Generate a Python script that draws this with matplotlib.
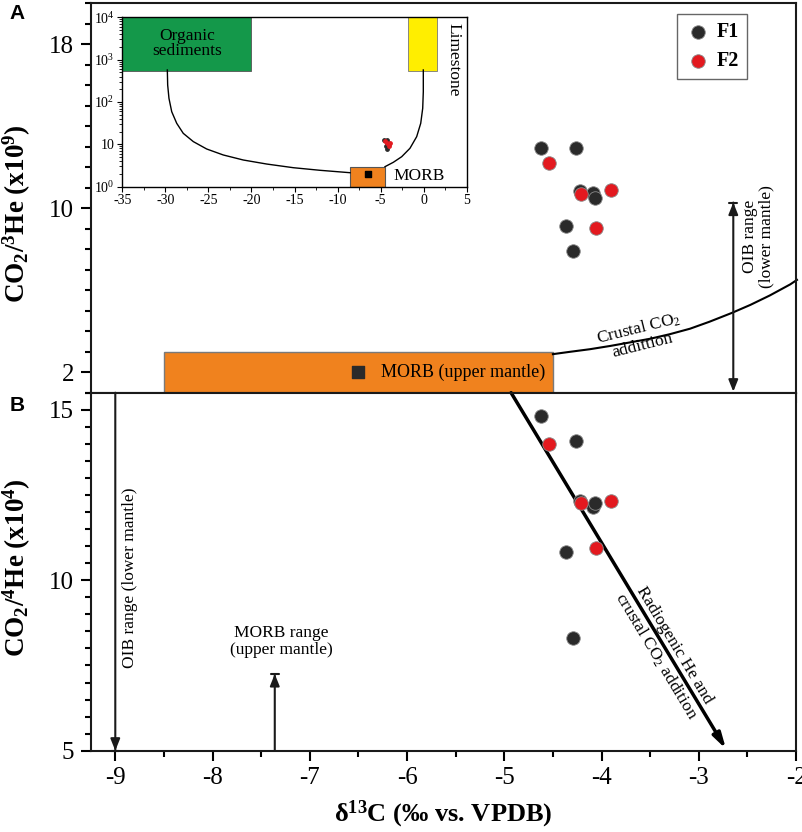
import numpy as np
import matplotlib
matplotlib.use('Agg')
import matplotlib.pyplot as plt
from matplotlib.patches import Rectangle
from matplotlib.ticker import MultipleLocator, FixedLocator, LogLocator, NullFormatter

plt.rcParams['font.family'] = ['Liberation Serif', 'DejaVu Serif']
plt.rcParams['mathtext.fontset'] = 'custom'
plt.rcParams['mathtext.rm'] = 'Liberation Serif'
plt.rcParams['mathtext.it'] = 'Liberation Serif:italic'
plt.rcParams['mathtext.bf'] = 'Liberation Serif:bold'
plt.rcParams['mathtext.default'] = 'regular'
plt.rcParams['axes.unicode_minus'] = False

# samples: d13C (permil), CO2/3He (x1e9), CO2/4He (x1e4)
f1_d13c = [-4.62, -4.26, -4.22, -4.09, -4.07, -4.37, -4.29]
f1_co2_3he = [12.94, 12.94, 10.85, 10.76, 10.47, 9.14, 7.91]
f1_co2_4he = [14.82, 14.09, 12.33, 12.16, 12.26, 10.84, 8.30]

f2_d13c = [-4.54, -4.21, -3.90, -4.06]
f2_co2_3he = [12.21, 10.68, 10.87, 9.04]
f2_co2_4he = [14.01, 12.27, 12.33, 10.96]

# MORB end member and box
morb_d13c = -6.5
morb_co2_3he = 2.0
morb_box_x = [-8.5, -4.5]
morb_box_y = [1.0, 3.0]

# crustal CO2 addition curve
crust_x = [-4.50, -4.33, -4.12, -3.91, -3.71, -3.50, -3.30, -3.09, -2.89, -2.66,
           -2.47, -2.27, -2.06, -1.99]
crust_y = [2.88, 2.99, 3.12, 3.28, 3.45, 3.63, 3.85, 4.12, 4.46, 4.89,
           5.28, 5.74, 6.28, 6.50]

# OIB range arrow in panel A
oib_a_x = -2.645
oib_a_y = [1.05, 10.27]

# panel B arrows
oib_b_x = -9.0
oib_b_y = [15.5, 5.0]
morb_b_x = -7.36
morb_b_y = [5.0, 7.25]
radio_x = [-4.93, -2.72]
radio_y = [15.5, 5.05]

# inset: end members and mixing curves
org_box_x = [-35, -20]
lime_box_x = [-1.8, 1.5]
src_box_y = [550, 1e4]
mix_org_x = [-29.77, -29.73, -29.58, -29.26, -28.68, -27.92, -26.75, -25.20,
             -23.27, -20.95, -18.23, -15.14, -12.04, -8.55]
mix_org_y = [570, 252, 122, 59, 31.4, 18.2, 11.6, 7.77,
             5.61, 4.27, 3.43, 2.81, 2.44, 2.14]
mix_lime_x = [-0.04, -0.04, -0.11, -0.34, -0.81, -1.59, -2.55, -3.52, -4.49]
mix_lime_y = [570, 175, 71, 31.4, 15.2, 8.07, 5.11, 3.77, 2.97]
inset_yticks = [1, 10, 100, 1000, 10000]
inset_ylabels = ['10$^0$', '10', '10$^2$', '10$^3$', '10$^4$']

black = '#2a2a2a'
red = '#e3191f'
orange = '#f0821e'
green = '#14984a'
yellow = '#ffee00'
arrow_col = '#1a1a1a'

fig = plt.figure(figsize=(8.03, 8.32), dpi=100)
axA = fig.add_axes([0.1133, 0.528, 0.878, 0.4684])
axB = fig.add_axes([0.1133, 0.0977, 0.878, 0.4303])

for ax in (axA, axB):
    for s in ax.spines.values():
        s.set_linewidth(1.5)
        s.set_color('#1a1a1a')
    ax.set_xlim(-9.25, -2)
    ax.xaxis.set_major_locator(MultipleLocator(1))
    ax.xaxis.set_minor_locator(MultipleLocator(0.5))
    ax.tick_params(which='major', length=7, width=1.5, labelsize=18, pad=5)
    ax.tick_params(which='minor', length=4.5, width=1.5)


def bar_tip(ax, x, y_tip, y_from):
    # short flat bar at an arrow tip
    ax.annotate('', xy=(x, y_tip), xytext=(x, y_from),
                arrowprops=dict(arrowstyle='-[,widthB=0.3,lengthB=0',
                                lw=1.5, color=arrow_col, shrinkA=0, shrinkB=0))


# ---- panel A
axA.set_ylim(1, 20)
axA.yaxis.set_major_locator(FixedLocator([2, 10, 18]))
axA.yaxis.set_minor_locator(MultipleLocator(1))
axA.tick_params(axis='x', labelbottom=False)

axA.add_patch(Rectangle((morb_box_x[0], morb_box_y[0]), morb_box_x[1] - morb_box_x[0],
                        morb_box_y[1] - morb_box_y[0], facecolor=orange,
                        edgecolor='#7a7a7a', lw=1, zorder=2))
axA.scatter([morb_d13c], [morb_co2_3he], marker='s', s=85, color=black, zorder=3)
axA.text(-6.27, 2.0, 'MORB (upper mantle)', fontsize=13, ha='left', va='center', zorder=4)

axA.plot(crust_x, crust_y, color='black', lw=1.5, zorder=2, clip_on=False)
axA.text(-3.6, 3.72, 'Crustal CO$_2$\naddittion', fontsize=12.5, rotation=14,
         ha='center', va='center', multialignment='center', linespacing=1.0,
         rotation_mode='anchor', zorder=4)

axA.annotate('', xy=(oib_a_x, oib_a_y[0]), xytext=(oib_a_x, oib_a_y[1]),
             arrowprops=dict(arrowstyle='<|-|>,head_length=0.7,head_width=0.28',
                             lw=1.5, color=arrow_col, shrinkA=0, shrinkB=0))
bar_tip(axA, oib_a_x, oib_a_y[1], oib_a_y[1] - 0.5)
axA.text(-2.39, 8.6, 'OIB range\n(lower mantle)', fontsize=12.5, rotation=90,
         ha='center', va='center', multialignment='center', linespacing=1.0)

axA.scatter(f1_d13c, f1_co2_3he, s=95, color=black, edgecolor='#8a8a8a', lw=0.6,
            zorder=5, label='F1')
axA.scatter(f2_d13c, f2_co2_3he, s=95, color=red, edgecolor='#8a8a8a', lw=0.6,
            zorder=6, label='F2')
leg = axA.legend(loc='upper right', bbox_to_anchor=(0.9305, 0.9718), borderaxespad=0,
                 fancybox=False, edgecolor='#666666', framealpha=1,
                 prop={'weight': 'bold', 'size': 14.5}, handletextpad=0.25,
                 borderpad=0.4, labelspacing=0.45, handlelength=1.3)
leg.get_frame().set_linewidth(1.0)

axA.set_ylabel('CO$_2$/$^3$He (x10$^9$)', fontsize=19.5, fontweight='bold')
axA.yaxis.set_label_coords(-0.082, 0.46)

# ---- inset
axI = fig.add_axes([0.1523, 0.7756, 0.4289, 0.2036])
axI.set_yscale('log')
axI.set_xlim(-35, 5)
axI.set_ylim(1, 1e4)
for s in axI.spines.values():
    s.set_linewidth(1.0)
axI.set_xticks(range(-35, 6, 5))
axI.xaxis.set_minor_locator(MultipleLocator(2.5))
axI.yaxis.set_major_locator(FixedLocator(inset_yticks))
axI.set_yticklabels(inset_ylabels)
axI.yaxis.set_minor_locator(LogLocator(base=10, subs=np.arange(2, 10)))
axI.yaxis.set_minor_formatter(NullFormatter())
axI.tick_params(which='major', length=3.5, width=0.8, labelsize=10, pad=2)
axI.tick_params(which='minor', length=2, width=0.6)

axI.add_patch(Rectangle((org_box_x[0], src_box_y[0]), org_box_x[1] - org_box_x[0],
                        src_box_y[1] - src_box_y[0], facecolor=green, edgecolor='#555', lw=0.6))
axI.add_patch(Rectangle((lime_box_x[0], src_box_y[0]), lime_box_x[1] - lime_box_x[0],
                        src_box_y[1] - src_box_y[0], facecolor=yellow, edgecolor='#777', lw=0.6))
axI.add_patch(Rectangle((morb_box_x[0], morb_box_y[0]), morb_box_x[1] - morb_box_x[0],
                        2.87 - morb_box_y[0], facecolor=orange, edgecolor='#555', lw=0.8))
axI.scatter([morb_d13c], [morb_co2_3he], marker='s', s=14, color='black', zorder=3)
axI.plot(mix_org_x, mix_org_y, color='black', lw=1.0)
axI.plot(mix_lime_x, mix_lime_y, color='black', lw=1.0)
axI.scatter(f1_d13c, f1_co2_3he, s=6, color=black, zorder=4)
axI.scatter(f2_d13c, f2_co2_3he, s=6, color=red, zorder=5)
axI.text(-27.5, 2400, 'Organic\nsediments', fontsize=12.5, ha='center', va='center',
         multialignment='center', linespacing=0.95)
axI.text(3.5, 1000, 'Limestone', fontsize=12.5, rotation=-90, ha='center', va='center')
axI.text(-3.5, 1.75, 'MORB', fontsize=12.5, ha='left', va='center')

# ---- panel B
axB.set_ylim(5, 15.5)
axB.yaxis.set_major_locator(FixedLocator([5, 10, 15]))
axB.yaxis.set_minor_locator(MultipleLocator(0.5))

axB.annotate('', xy=(oib_b_x, oib_b_y[1]), xytext=(oib_b_x, oib_b_y[0]),
             arrowprops=dict(arrowstyle='-|>,head_length=0.7,head_width=0.28',
                             lw=1.5, color=arrow_col, shrinkA=0, shrinkB=0))
bar_tip(axB, oib_b_x, oib_b_y[1], oib_b_y[1] + 0.3)
axB.text(-8.85, 10.07, 'OIB range (lower mantle)', fontsize=12.5, rotation=90,
         ha='center', va='center')

axB.annotate('', xy=(morb_b_x, morb_b_y[1]), xytext=(morb_b_x, morb_b_y[0]),
             arrowprops=dict(arrowstyle='-|>,head_length=0.7,head_width=0.28',
                             lw=1.5, color=arrow_col, shrinkA=0, shrinkB=0))
bar_tip(axB, morb_b_x, morb_b_y[1], morb_b_y[1] - 0.3)
axB.text(-7.29, 8.2, 'MORB range\n(upper mantle)', fontsize=12.5, ha='center',
         va='center', multialignment='center', linespacing=1.05)

axB.annotate('', xy=(radio_x[1], radio_y[1]), xytext=(radio_x[0], radio_y[0]),
             arrowprops=dict(arrowstyle='-|>,head_length=0.9,head_width=0.25',
                             lw=2.5, color='black', shrinkA=0, shrinkB=0), zorder=2)
axB.text(-3.35, 7.93, 'Radiogenic He and\ncrustal CO$_2$ addition', fontsize=12.5,
         rotation=-59, ha='center', va='center', multialignment='center',
         rotation_mode='anchor', linespacing=1.25)

axB.scatter(f1_d13c, f1_co2_4he, s=95, color=black, edgecolor='#8a8a8a', lw=0.6, zorder=5)
axB.scatter(f2_d13c, f2_co2_4he, s=95, color=red, edgecolor='#8a8a8a', lw=0.6, zorder=6)

axB.set_ylabel('CO$_2$/$^4$He (x10$^4$)', fontsize=19.5, fontweight='bold')
axB.yaxis.set_label_coords(-0.082, 0.512)
axB.set_xlabel('δ$^{13}$C (‰ vs. VPDB)', fontsize=19, fontweight='bold', labelpad=7)

fig.text(0.012, 0.984, 'A', fontsize=15, fontweight='bold', family='Liberation Sans',
         ha='left', va='center')
fig.text(0.012, 0.513, 'B', fontsize=15, fontweight='bold', family='Liberation Sans',
         ha='left', va='center')

fig.savefig('out.png', dpi=100)
